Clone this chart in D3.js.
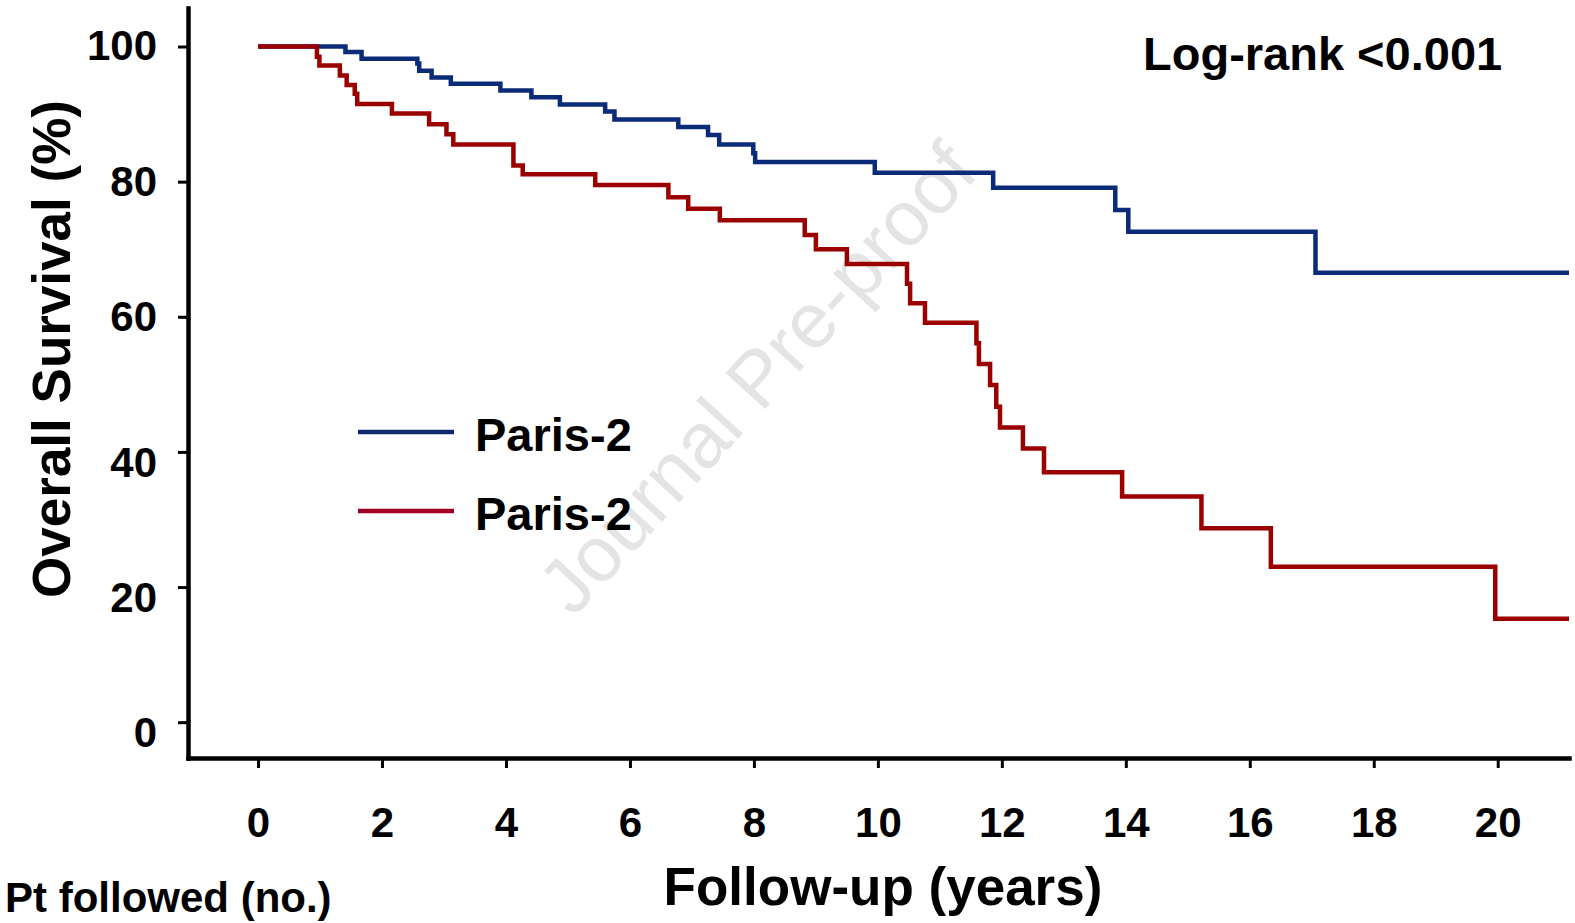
<!DOCTYPE html>
<html>
<head>
<meta charset="utf-8">
<script src="https://cdn.jsdelivr.net/npm/d3@7"></script>
<style>
  html, body { margin: 0; padding: 0; background: #ffffff; }
  svg { display: block; }
  text { font-family: "Liberation Sans", Arial, Helvetica, sans-serif; font-weight: bold; fill: #000; }
</style>
</head>
<body>
<svg id="chart" width="1575" height="923"></svg>
<script>
// Kaplan–Meier overall survival, two cohorts
const yearTicks = [0, 2, 4, 6, 8, 10, 12, 14, 16, 18, 20];
const survivalTicks = [0, 20, 40, 60, 80, 100];
const seriesNames = ["Paris-2", "Paris-2"];
const seriesColors = ["#0b2a78", "#9b0000"];
const legendColors = ["#0b2a70", "#a00028"];

// event times (years) and survival (%) after each step
const blueTimes = [0, 1.41, 1.67, 2.57, 2.60, 2.80, 3.11, 3.91, 4.41, 4.87, 5.60, 5.75, 6.78, 7.26, 7.44, 7.99, 8.02, 9.95, 11.86, 13.83, 14.04, 17.06];
const blueSurvival = [100, 99.2, 98.2, 97.5, 96.4, 95.4, 94.5, 93.5, 92.5, 91.4, 90.4, 89.2, 88.1, 86.9, 85.5, 84.2, 82.9, 81.3, 79.1, 75.8, 72.6, 66.5];

const redTimes = [0, 0.95, 0.99, 1.32, 1.43, 1.56, 1.60, 2.16, 2.76, 3.04, 3.15, 4.12, 4.27, 5.44, 6.62, 6.94, 7.45, 8.82, 9.00, 9.50, 10.47, 10.52, 10.76, 11.59, 11.63, 11.81, 11.91, 11.97, 12.34, 12.68, 13.94, 15.22, 16.34, 19.96];
const redSurvival = [100, 98.5, 97.2, 95.7, 94.3, 93.0, 91.5, 90.1, 88.5, 87.0, 85.5, 82.4, 81.1, 79.5, 77.7, 76.0, 74.3, 72.1, 70.0, 67.8, 64.9, 62.0, 59.1, 56.1, 53.0, 49.9, 46.7, 43.6, 40.5, 37.0, 33.4, 28.7, 23.0, 15.3];

const followUpEnd = 21.15;
const xDomain = [-1.13, 21.15];
const yDomain = [-5.3, 105.7];

const svg = d3.select("#chart");

const x = d3.scaleLinear().domain(xDomain).range([188, 1569]);
const y = d3.scaleLinear().domain(yDomain).range([758, 8]);

// watermark
svg.append("text")
  .attr("transform", "translate(757,378) rotate(-47.5)")
  .attr("text-anchor", "middle")
  .attr("dominant-baseline", "central")
  .style("font-weight", "normal")
  .style("font-size", "78px")
  .style("fill", "#e4e4e4")
  .text("Journal Pre-proof");

// axes
const xAxis = d3.axisBottom(x)
  .tickValues(yearTicks)
  .tickFormat(d3.format("d"))
  .tickSize(10)
  .tickSizeOuter(0)
  .tickPadding(39);

const yAxis = d3.axisLeft(y)
  .tickValues(survivalTicks)
  .tickFormat(d3.format("d"))
  .tickSize(10)
  .tickSizeOuter(0)
  .tickPadding(21);

const gx = svg.append("g").attr("transform", `translate(0,${y(yDomain[0])})`).call(xAxis);
const gy = svg.append("g").attr("transform", `translate(${x(xDomain[0])},0)`).call(yAxis);

[gx, gy].forEach(g => {
  g.select(".domain").attr("stroke", "#000").attr("stroke-width", 4.5).attr("stroke-linecap", "square");
  g.selectAll(".tick line").attr("stroke", "#000").attr("stroke-width", 3);
  g.selectAll(".tick text")
    .attr("font-family", null).attr("font-size", null)
    .style("font-size", "42px").style("font-weight", "bold").style("fill", "#000");
});

// lower half of the survival labels sits a little below its tick
gy.selectAll(".tick text").attr("dy", d => d < 50 ? "0.58em" : "0.32em");

// survival curves
const line = d3.line()
  .x(d => x(d[0]))
  .y(d => y(d[1]))
  .curve(d3.curveStepAfter);

function curvePoints(times, surv) {
  const pts = times.map((t, i) => [t, surv[i]]);
  pts.push([followUpEnd, surv[surv.length - 1]]);
  return pts;
}

const curves = [curvePoints(blueTimes, blueSurvival), curvePoints(redTimes, redSurvival)];

svg.append("g").selectAll("path")
  .data(curves)
  .join("path")
  .attr("d", line)
  .attr("fill", "none")
  .attr("stroke", (d, i) => seriesColors[i])
  .attr("stroke-width", 4.5)
  .attr("stroke-linejoin", "miter")
  .attr("stroke-linecap", "butt");

// legend
const legend = svg.append("g").attr("transform", "translate(358,432)");
const legendItems = legend.selectAll("g")
  .data(seriesNames)
  .join("g")
  .attr("transform", (d, i) => `translate(0,${i * 79})`);
legendItems.append("line")
  .attr("x1", 0).attr("x2", 96).attr("y1", 0).attr("y2", 0)
  .attr("stroke", (d, i) => legendColors[i])
  .attr("stroke-width", 4.5);
legendItems.append("text")
  .attr("x", 117).attr("y", 19)
  .style("font-size", "47px")
  .text(d => d);

// annotations and titles
svg.append("text")
  .attr("x", 1143).attr("y", 70)
  .style("font-size", "47px")
  .text("Log-rank <0.001");

svg.append("text")
  .attr("transform", "translate(70,349) rotate(-90)")
  .attr("text-anchor", "middle")
  .style("font-size", "53px")
  .text("Overall Survival (%)");

svg.append("text")
  .attr("x", 883).attr("y", 905)
  .attr("text-anchor", "middle")
  .style("font-size", "53px")
  .text("Follow-up (years)");

svg.append("text")
  .attr("x", 5).attr("y", 912)
  .style("font-size", "42px")
  .text("Pt followed (no.)");
</script>
</body>
</html>
